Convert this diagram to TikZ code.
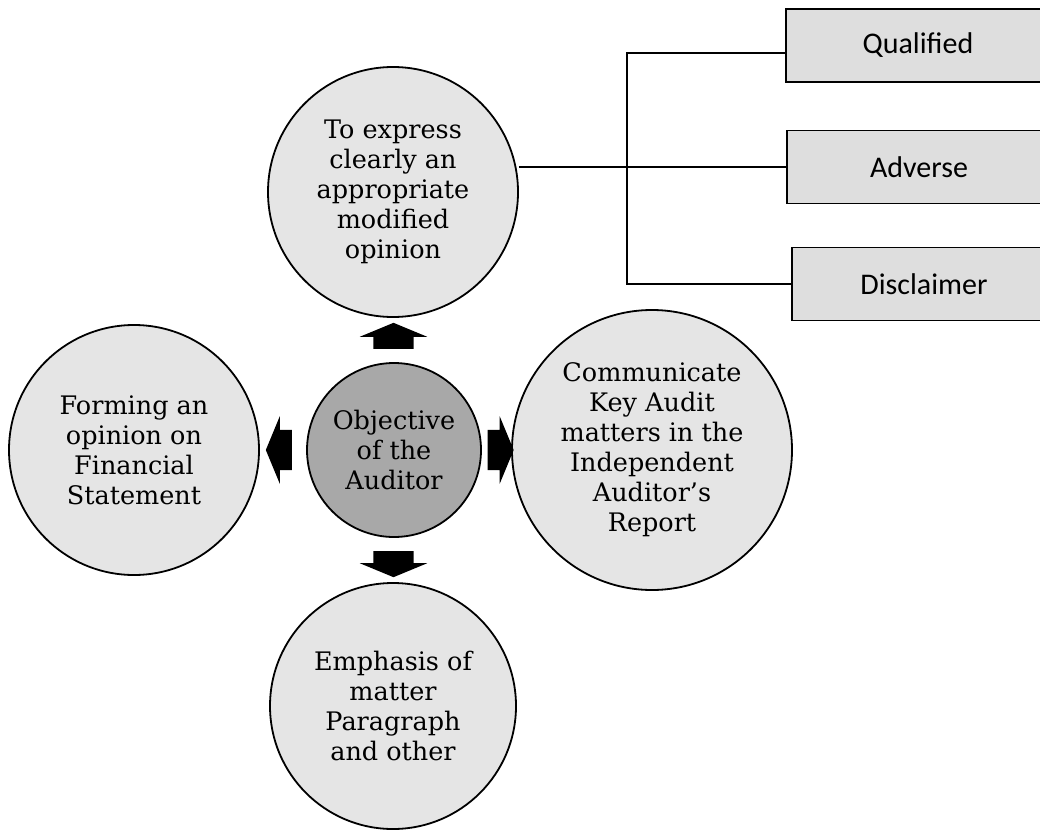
\documentclass[tikz,border=0pt]{standalone}
\usepackage{fontspec}
\setmainfont{DejaVu Serif}
\newfontfamily\boxfont{Carlito}
\usetikzlibrary{positioning,calc,shapes.arrows}
\definecolor{ringgray}{RGB}{229,229,229}
\definecolor{coregray}{RGB}{168,168,168}
\definecolor{optgray}{RGB}{222,222,222}

\begin{document}
\begin{tikzpicture}[x=1pt,y=-1pt,
    goal/.style={circle,draw,line width=1.8pt,fill=ringgray,inner sep=0pt,align=center,
      font=\fontsize{25.5}{30}\selectfont},
    optbox/.style={rectangle,draw,line width=1.8pt,fill=optgray,minimum width=264pt,
      minimum height=73pt,font=\boxfont\fontsize{30}{34}\selectfont},
    fatarrow/.style={single arrow,fill=black,inner xsep=0pt,inner ysep=20pt,minimum width=67pt,
      minimum height=26pt,single arrow head extend=13.5pt,single arrow tip angle=135}]
  \clip (0,0) rectangle (1040,832);

  \node[goal,fill=coregray,minimum size=174pt] (obj) at (394,450) {Objective\\of the\\Auditor};
  \node[goal,minimum size=250pt] (opin) at (393,192) {To express\\clearly an\\appropriate\\modified\\opinion};
  \node[goal,minimum size=250pt] (form) at (134,450) {Forming an\\opinion on\\Financial\\Statement};
  \node[goal,minimum size=280pt] (kam) at (652,450) {Communicate\\Key Audit\\matters in the\\Independent\\Auditor's\\Report};
  \node[goal,minimum size=246pt] (emph) at (393,706) {Emphasis of\\matter\\Paragraph\\and other};

  \node[fatarrow,rotate=90] (upA) at ($(obj.north)!.5!(opin.south)$) {};
  \node[fatarrow,rotate=270] (downA) at ($(obj.south)!.5!(emph.north)$) {};
  \node[fatarrow,rotate=180] (leftA) at ($(obj.west)!.5!(form.east)$) {};
  \node[fatarrow] (rightA) at ($(obj.east)!.5!(kam.west)$) {};

  \node[optbox] (qual) at (918,45.5) {Qualified};
  \node[optbox] (adv) at (919,167) {Adverse};
  \node[optbox] (disc) at (924,284) {Disclaimer};

  \coordinate (fork) at (627,0);
  \draw[line width=2pt] (adv.west -| opin.east) -- (adv.west);
  \draw[line width=2pt] ([yshift=-7.5pt]qual.west) -| (fork |- disc.west) -- (disc.west);
\end{tikzpicture}
\end{document}
